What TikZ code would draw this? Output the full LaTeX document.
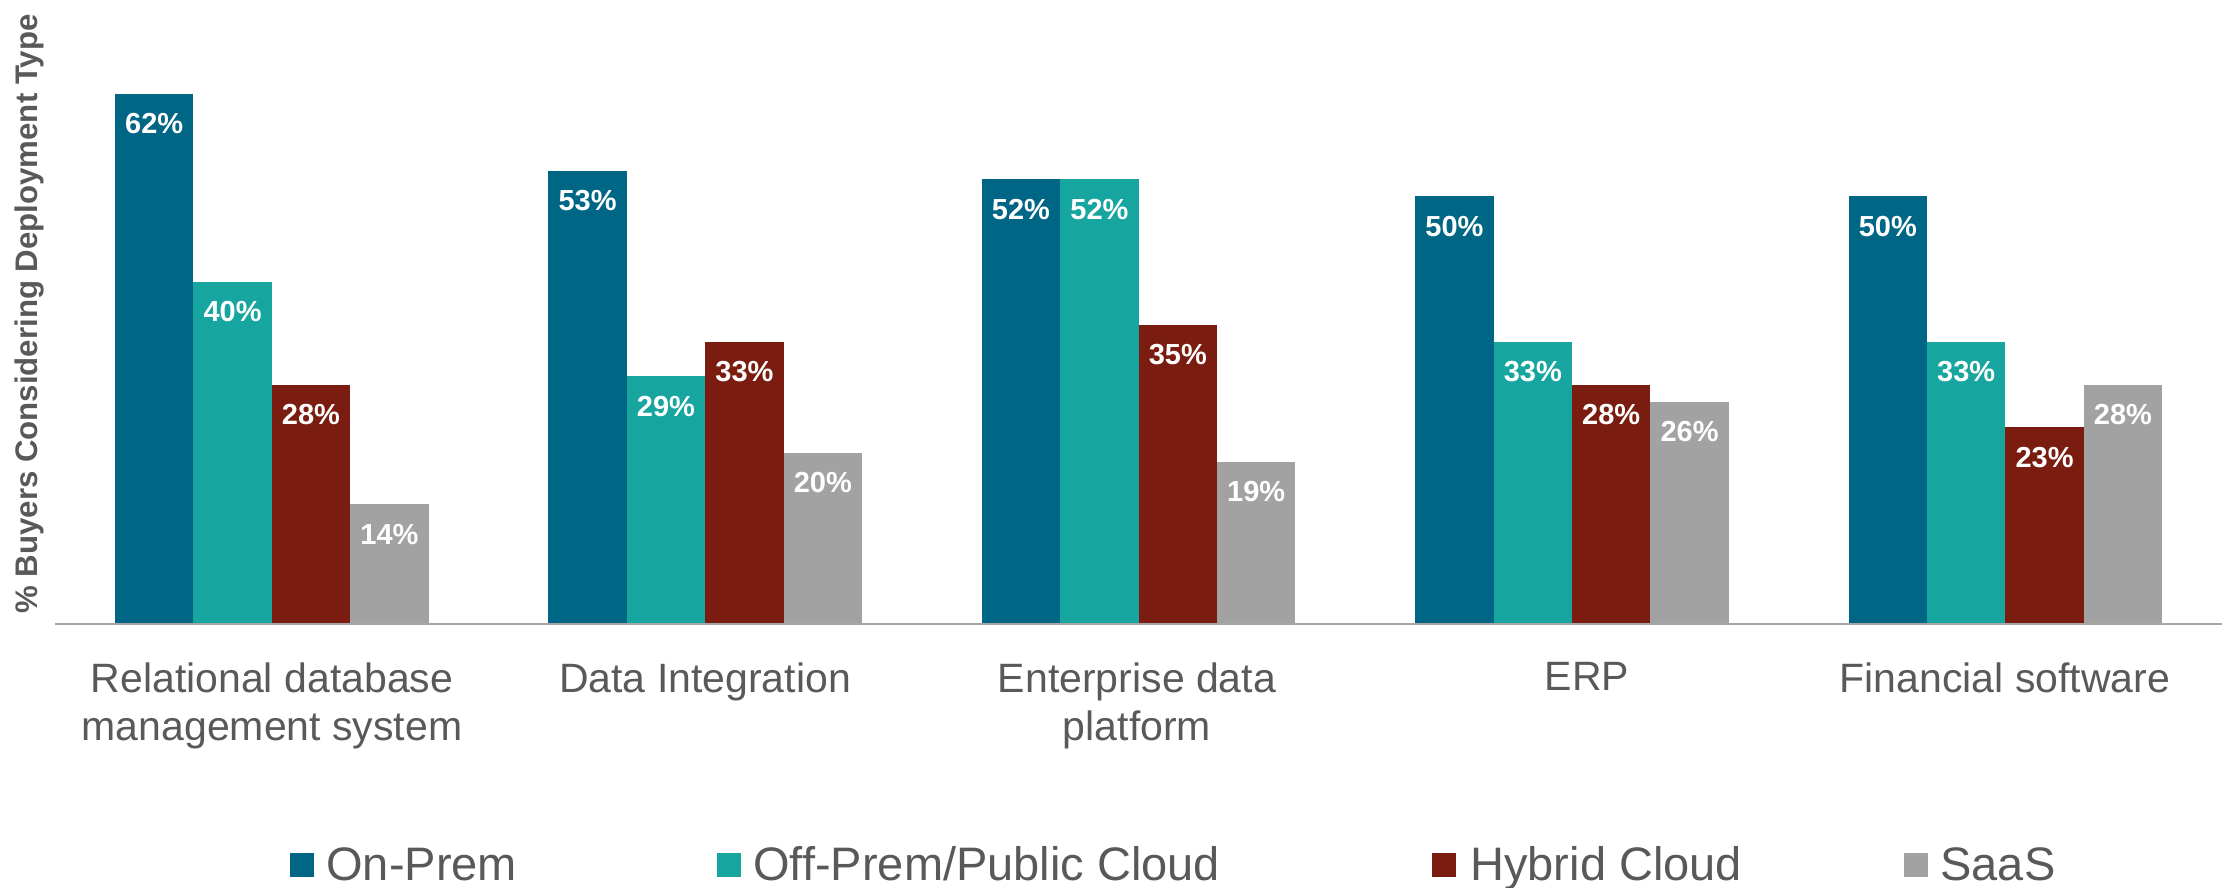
\documentclass[tikz,border=0pt]{standalone}
\usepackage{fontspec}
\setmainfont{Liberation Sans}
\usepackage{tikz}
\usetikzlibrary{positioning}

\definecolor{onprem}{HTML}{006685}
\definecolor{offprem}{HTML}{17A59F}
\definecolor{hybrid}{HTML}{7A1C10}
\definecolor{saas}{HTML}{A2A2A2}
\definecolor{txtgray}{HTML}{595959}
\definecolor{axisgray}{HTML}{A6A6A6}

\tikzset{
  vallabel/.style={text=white, font=\bfseries\fontsize{14.5}{17}\selectfont, inner sep=0pt},
  catlabel/.style={text=txtgray, font=\fontsize{20.5}{24}\selectfont, align=center, inner sep=0pt, anchor=north},
  legkey/.style={minimum size=12pt, inner sep=0pt},
  legtext/.style={text=txtgray, font=\fontsize{23.5}{28}\selectfont, inner sep=0pt, anchor=base west}
}

\begin{document}
\begin{tikzpicture}[x=0.5pt, y=-0.5pt]
    \useasboundingbox (0,0) rectangle (2224,888);

    % Axis title
    \node[rotate=90, text=txtgray, font=\bfseries\fontsize{15.6}{19}\selectfont, inner sep=0pt] (ytitle) at (30,314) {\% Buyers Considering Deployment Type};

    % Bars and value labels
    \foreach \g/\a/\b/\c/\d in {0/62/40/28/14, 1/53/29/33/20, 2/52/52/35/19, 3/50/33/28/26, 4/50/33/23/28} {
      \foreach \k/\v/\col in {0/\a/onprem, 1/\b/offprem, 2/\c/hybrid, 3/\d/saas} {
        \fill[\col] ({115+433.4*\g+78.4*\k},624) rectangle ({193.4+433.4*\g+78.4*\k},{624-8.55*\v});
        \node[vallabel] (val\g\k) at ({154.2+433.4*\g+78.4*\k},{654-8.55*\v}) {\v\%};
      }
    }

    % Axis line
    \coordinate (axl) at (55,624);
    \coordinate (axr) at (2222,624);
    \draw[axisgray, line width=1.2pt] (axl) -- (axr);

    % Category names
    \node[catlabel] (cat1) at (272,662) {Relational database\\management system};
    \node[catlabel] (cat2) at (705,662) {Data Integration};
    \node[catlabel] (cat3) at (1137,662) {Enterprise data\\platform};
    \node[catlabel] (cat4) at (1587,662) {ERP};
    \node[catlabel] (cat5) at (2005,662) {Financial software};

    % Legend
    \node[legkey, fill=onprem] (key1) at (302,864.5) {};
    \node[legtext] (leg1) at (326,880) {On-Prem};
    \node[legkey, fill=offprem] (key2) at (729,864.5) {};
    \node[legtext] (leg2) at (753,880) {Off-Prem/Public Cloud};
    \node[legkey, fill=hybrid] (key3) at (1444,864.5) {};
    \node[legtext] (leg3) at (1470,880) {Hybrid Cloud};
    \node[legkey, fill=saas] (key4) at (1916,864.5) {};
    \node[legtext] (leg4) at (1940,880) {SaaS};

\end{tikzpicture}
\end{document}
